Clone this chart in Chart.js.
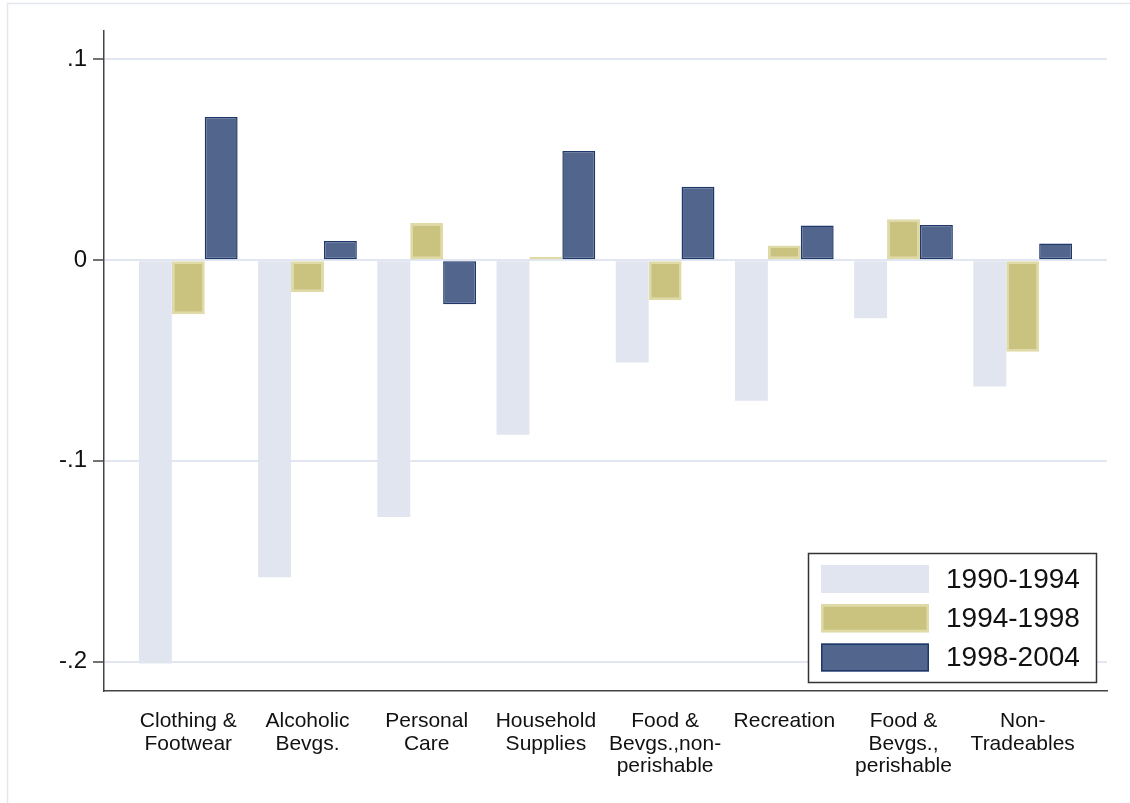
<!DOCTYPE html>
<html><head><meta charset="utf-8">
<script src="https://cdn.jsdelivr.net/npm/chart.js@4.4.0/dist/chart.umd.min.js"></script>
<style>html,body{margin:0;padding:0;background:#fff;} #wrap{width:1130px;height:803px;position:relative;}</style>
</head><body><div id="wrap"><canvas id="c" width="1130" height="803"></canvas></div>
<script>
const categories = [['Clothing &','Footwear'],['Alcoholic','Bevgs.'],['Personal','Care'],['Household','Supplies'],['Food &','Bevgs.,non-','perishable'],['Recreation'],['Food &','Bevgs.,','perishable'],['Non-','Tradeables']];
const seriesLabels = ['1990-1994','1994-1998','1998-2004'];
const s1990 = [-0.201,-0.158,-0.128,-0.087,-0.051,-0.070,-0.029,-0.063];
const s1994 = [-0.027,-0.016,0.0185,0.0017,-0.020,0.0073,0.0204,-0.0457];
const s1998 = [0.0713,0.0095,-0.022,0.0544,0.0366,0.0173,0.0175,0.0083];
const yTicks = [0.1,0,-0.1,-0.2];
const yTickLabels = ['.1','0','-.1','-.2'];

const FONT = "'Liberation Sans', Arial, sans-serif";
const toPts = arr => arr.map((v,i)=>({x:i,y:v}));

const frame = {
  id:'frame',
  beforeDraw(chart){
    const ctx = chart.ctx;
    ctx.save();
    ctx.fillStyle='#fff'; ctx.fillRect(0,0,chart.width,chart.height);
    ctx.strokeStyle='#e3e6ee'; ctx.lineWidth=1.5;
    ctx.beginPath(); ctx.moveTo(7.5,chart.height); ctx.lineTo(7.5,3.5); ctx.lineTo(chart.width,3.5); ctx.stroke();
    ctx.restore();
  }
};
const boxLegend = {
  id:'boxLegend',
  afterDraw(chart){
    const ctx = chart.ctx;
    ctx.save();
    ctx.fillStyle='#fff'; ctx.fillRect(808.5,553.5,288,129);
    ctx.strokeStyle='#333'; ctx.lineWidth=1.5; ctx.strokeRect(808.5,553.5,288,129);
    chart.data.datasets.forEach((ds,i)=>{
      const y = 565 + 39.25*i;
      ctx.fillStyle = ds.backgroundColor;
      ctx.fillRect(821,y,108,28);
      if (ds.borderWidth>0){ ctx.strokeStyle=ds.borderColor; ctx.lineWidth=ds.borderWidth; const b=ds.borderWidth/2; ctx.strokeRect(821+b,y+b,108-2*b,28-2*b); }
      ctx.fillStyle='#111'; ctx.font='28px '+FONT; ctx.textBaseline='middle'; ctx.textAlign='left';
      ctx.fillText(ds.label,946,y+15);
    });
    ctx.restore();
  }
};

new Chart(document.getElementById('c'),{
  type:'bar',
  data:{datasets:[
    {label:seriesLabels[0],data:toPts(s1990),backgroundColor:'#e0e5f0',borderColor:'#e0e5f0',borderWidth:0},
    {label:seriesLabels[1],data:toPts(s1994),backgroundColor:'#cac37f',borderColor:'#dfdaa6',borderWidth:2.5},
    {label:seriesLabels[2],data:toPts(s1998),backgroundColor:'#52658c',borderColor:'#1f386b',borderWidth:1.5}
  ]},
  options:{
    responsive:false,animation:false,devicePixelRatio:1,
    layout:{padding:{left:0,top:31,right:23,bottom:0}},
    datasets:{bar:{categoryPercentage:0.828,barPercentage:1.0,borderSkipped:false}},
    plugins:{legend:{display:false},tooltip:{enabled:false}},
    scales:{
      x:{type:'linear',min:-0.707,max:7.707,offset:false,
        afterBuildTicks:s=>{s.ticks=categories.map((_,i)=>({value:i}));},
        afterFit:s=>{s.height=112;},
        grid:{drawOnChartArea:false,drawTicks:false,offset:false},
        border:{display:true,color:'#444',width:1.5},
        ticks:{autoSkip:false,maxRotation:0,padding:19,color:'#111',font:{family:FONT,size:21,lineHeight:1.07},
          callback:v=>categories[v]}
      },
      y:{type:'linear',min:-0.2147,max:0.1142,
        afterBuildTicks:s=>{s.ticks=yTicks.map(v=>({value:v}));},
        afterFit:s=>{s.width=104;},
        grid:{color:'#e1e6f0',lineWidth:2,tickColor:'#444',tickLength:11,tickWidth:1.5},
        border:{display:true,color:'#444',width:1.5},
        ticks:{padding:6,color:'#111',font:{family:FONT,size:24},callback:v=>yTickLabels[yTicks.indexOf(v)]}
      }
    }
  },
  plugins:[frame,boxLegend]
});
</script></body></html>
